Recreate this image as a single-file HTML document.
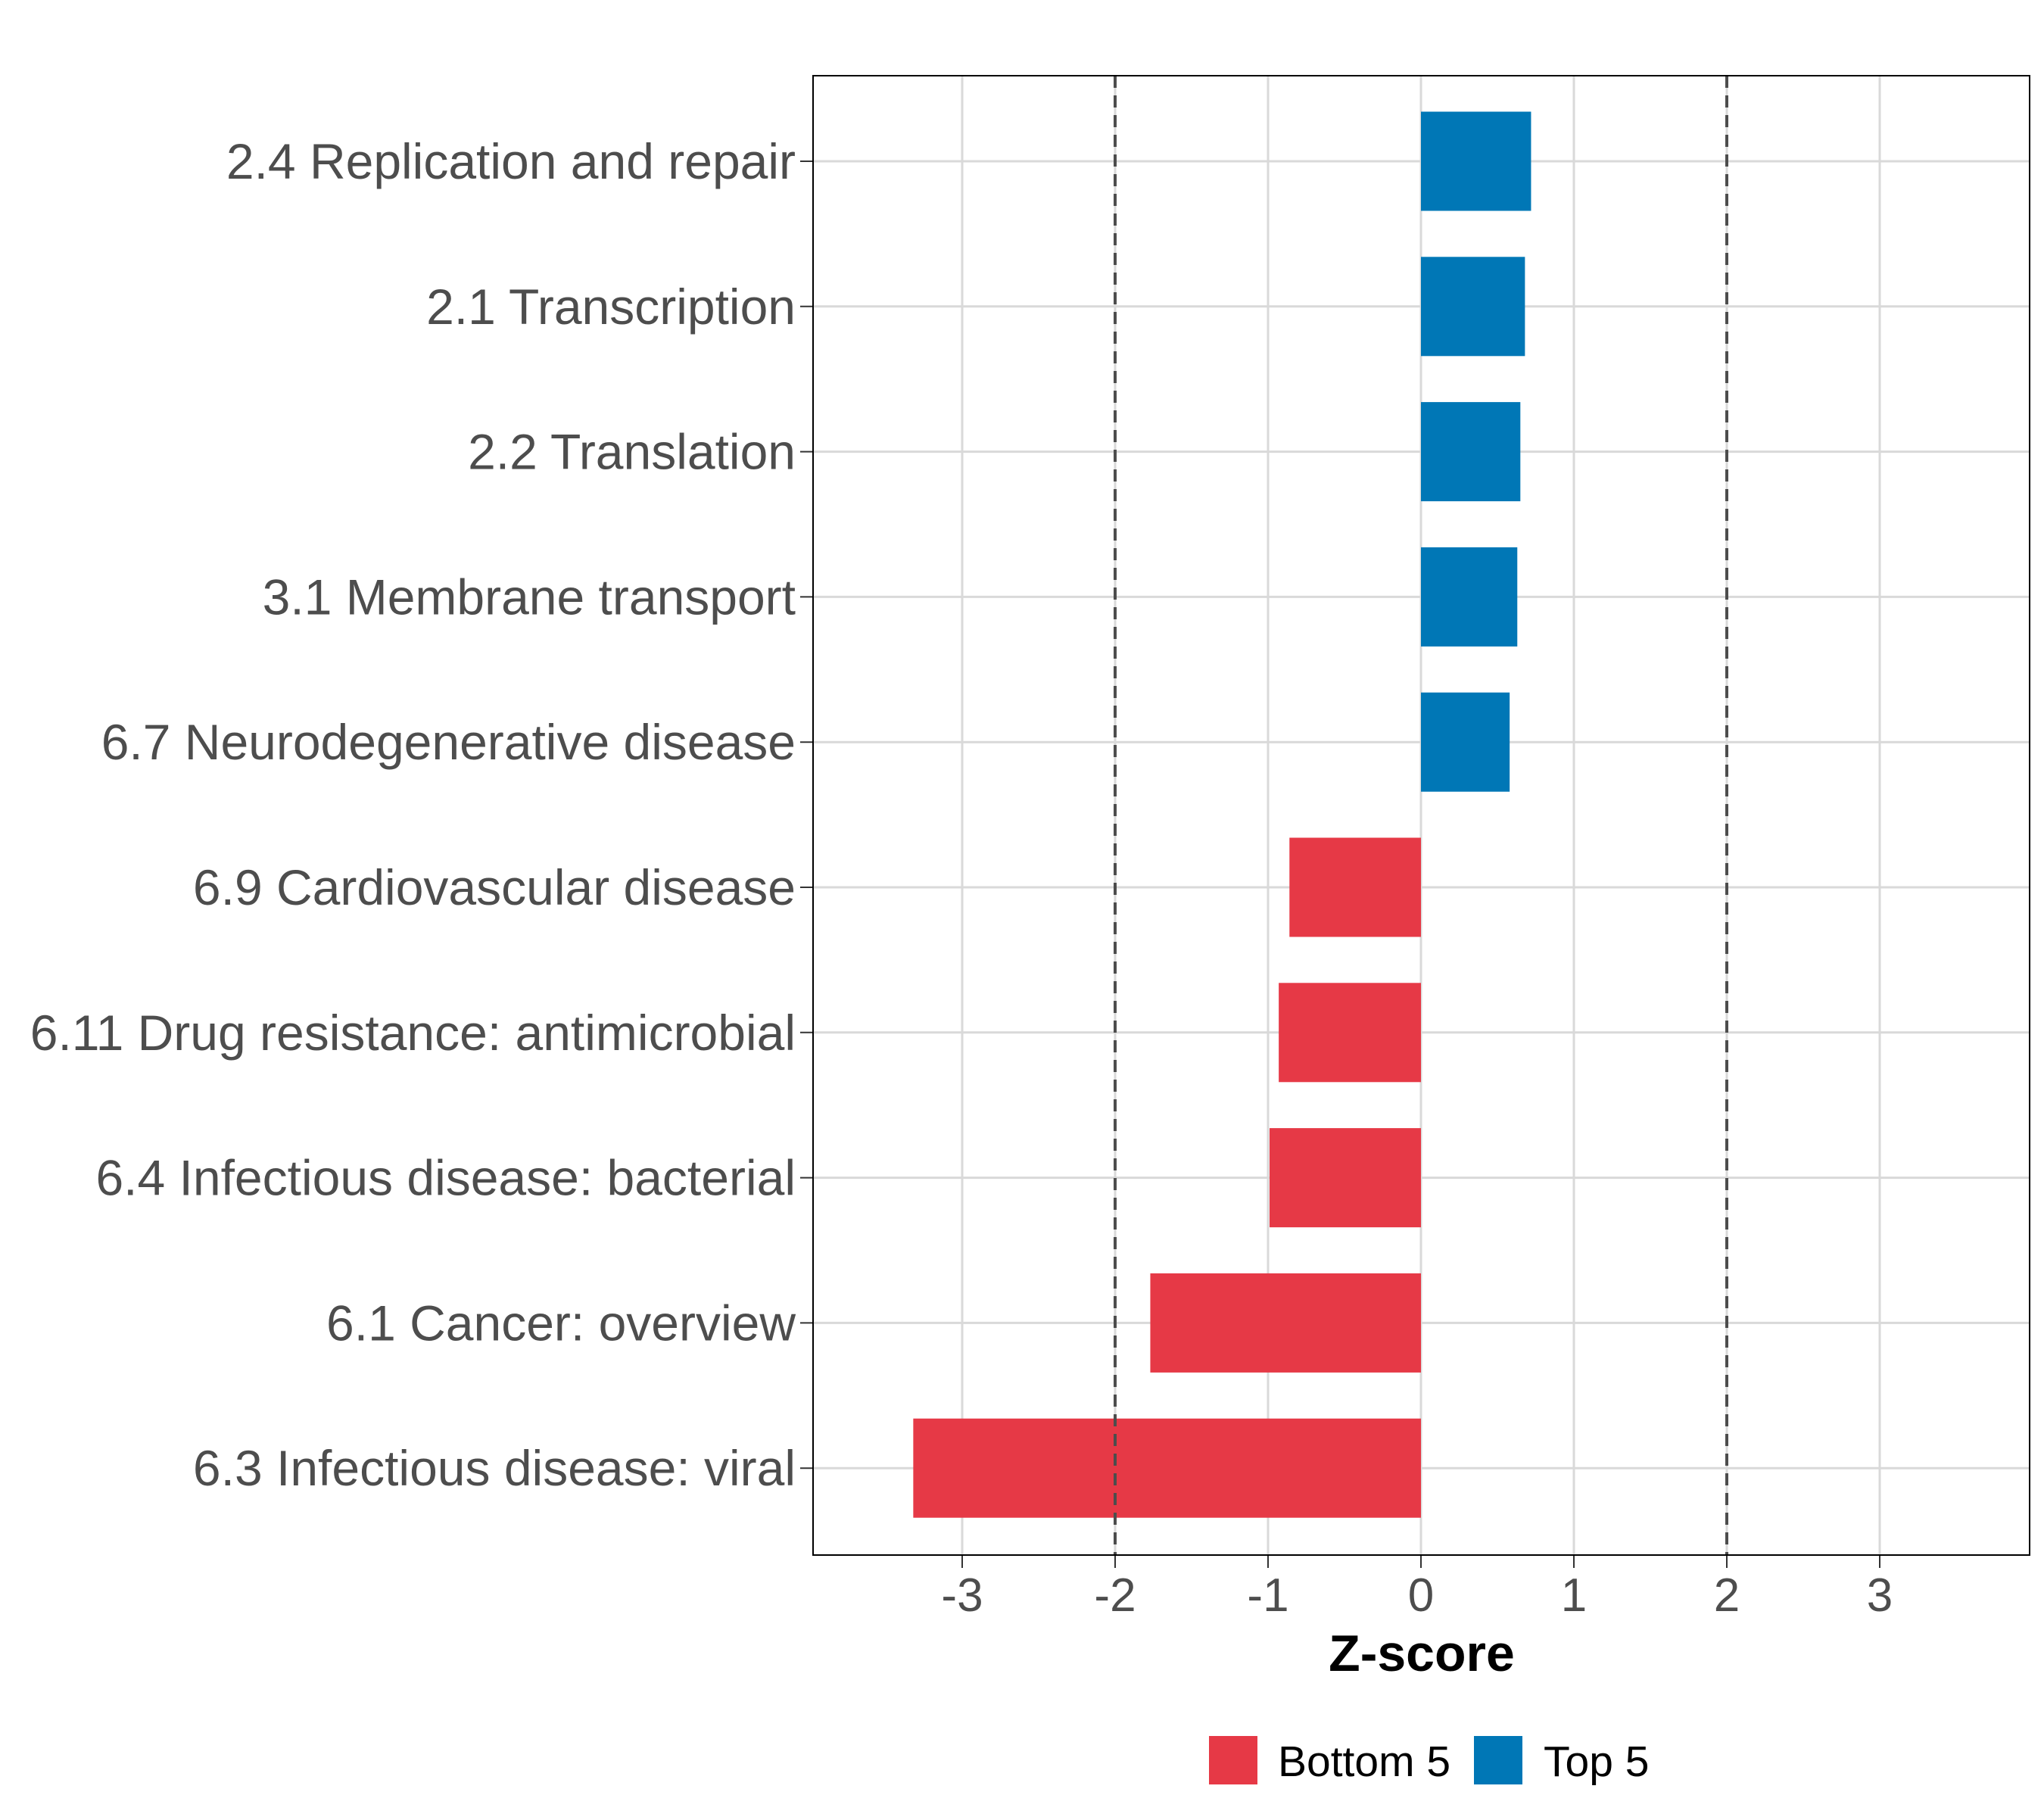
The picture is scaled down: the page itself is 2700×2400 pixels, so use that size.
<!DOCTYPE html>
<html><head><meta charset="utf-8"><style>html,body{margin:0;padding:0;background:#fff}svg{display:block}</style></head>
<body>
<svg id="chart" xmlns="http://www.w3.org/2000/svg" width="2700" height="2400" viewBox="0 0 2700 2400" font-family="Liberation Sans, Arial, sans-serif">
<rect width="2700" height="2400" fill="#fff"/>
<g id="grid"></g><g id="bars"></g><g id="ylabels"></g><g id="xlabels"></g>
<rect x="1074" y="100" width="1607" height="1954" fill="none" stroke="#000" stroke-width="2"/>
<text x="1878" y="2207" font-size="68" font-weight="bold" text-anchor="middle" fill="#000">Z-score</text>
<g>
<rect x="1597" y="2293" width="64" height="64" fill="#E63946"/>
<text x="1688" y="2346" font-size="57" fill="#000">Bottom 5</text>
<rect x="1947" y="2293" width="64" height="64" fill="#0077B6"/>
<text x="2039" y="2346" font-size="57" fill="#000">Top 5</text>
</g>
</svg>
<script>
const categories=["2.4 Replication and repair","2.1 Transcription","2.2 Translation","3.1 Membrane transport","6.7 Neurodegenerative disease","6.9 Cardiovascular disease","6.11 Drug resistance: antimicrobial","6.4 Infectious disease: bacterial","6.1 Cancer: overview","6.3 Infectious disease: viral"];
const values=[0.72,0.68,0.65,0.63,0.58,-0.86,-0.93,-0.99,-1.77,-3.32];
const groups=["Top 5","Top 5","Top 5","Top 5","Top 5","Bottom 5","Bottom 5","Bottom 5","Bottom 5","Bottom 5"];
const xTicks=[-3,-2,-1,0,1,2,3];
const thresholds=[-2,2];
const NS="http://www.w3.org/2000/svg";
const X0=1877,UNIT=202,L=1074,R=2681,T=100,B=2054,Y0=213,STEP=191.8,BH=131;
const x=v=>X0+v*UNIT, y=i=>Y0+i*STEP;
function mk(t,a,p){const e=document.createElementNS(NS,t);for(const k in a)e.setAttribute(k,a[k]);p.appendChild(e);return e;}
const g=document.getElementById('grid'),gb=document.getElementById('bars'),gy=document.getElementById('ylabels'),gx=document.getElementById('xlabels');
xTicks.forEach(t=>{
 const l=mk('line',{x1:x(t),x2:x(t),y1:T,y2:B,stroke:'#d9d9d9','stroke-width':3},g);
 
 
 const tk=mk('line',{x1:x(t),x2:x(t),y1:B,y2:B+17,stroke:'#333','stroke-width':2},gx);
 
 
 const tx=mk('text',{x:x(t),y:B+74,'font-size':62,'text-anchor':'middle',fill:'#4d4d4d'},gx);
 tx.textContent=String(t);
 
 
});
categories.forEach((c,i)=>{
 const l=mk('line',{x1:L,x2:R,y1:y(i),y2:y(i),stroke:'#d9d9d9','stroke-width':3},g);
 
 
 const v=values[i];
 const r=mk('rect',{x:Math.min(x(0),x(v)),y:y(i)-BH/2,width:Math.abs(x(v)-x(0)),height:BH,fill:groups[i]==='Top 5'?'#0077B6':'#E63946'},gb);
 
 
 const tk=mk('line',{x1:L-17,x2:L,y1:y(i),y2:y(i),stroke:'#333','stroke-width':2},gy);
 
 
 const tx=mk('text',{x:L-23,y:y(i)+23,'font-size':66,'text-anchor':'end',fill:'#4d4d4d'},gy);
 tx.textContent=c;
 
 
});
thresholds.forEach(t=>{
 const l=mk('line',{x1:x(t),x2:x(t),y1:T,y2:B,stroke:'#4d4d4d','stroke-width':4,'stroke-dasharray':'16,10'},gb);
 
 
});
</script>
</body></html>
